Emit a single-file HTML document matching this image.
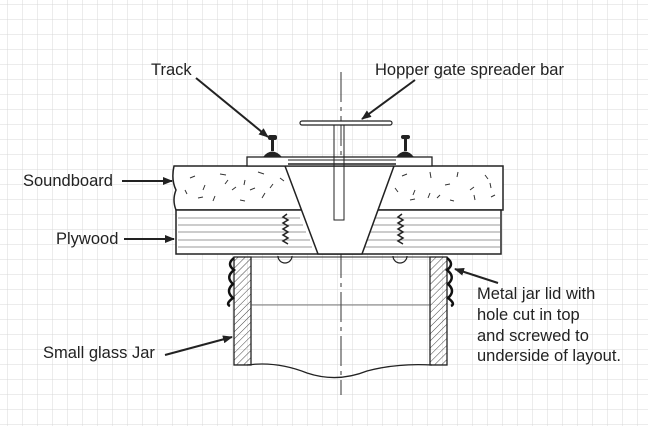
<!DOCTYPE html>
<html><head><meta charset="utf-8"><style>
html,body{margin:0;padding:0;background:#fff;}
svg{display:block;}
text{font-family:"Liberation Sans",sans-serif;fill:#222;}
</style></head><body>
<svg width="648" height="426" viewBox="0 0 648 426" xmlns="http://www.w3.org/2000/svg">
<defs>
<pattern id="grid" width="15" height="15" patternUnits="userSpaceOnUse" x="7" y="4">
<path d="M0 0H15M0 0V15" stroke="#d8d8d8" stroke-width="1" fill="none"/>
</pattern>
<pattern id="hatch" width="5" height="5" patternUnits="userSpaceOnUse" patternTransform="rotate(45)">
<line x1="0" y1="0" x2="0" y2="5" stroke="#444" stroke-width="1"/>
</pattern>
<marker id="ah" markerWidth="10" markerHeight="8" refX="9" refY="4" orient="auto" markerUnits="userSpaceOnUse">
<path d="M0 0L10 4L0 8z" fill="#222"/>
</marker>
</defs>
<rect width="648" height="426" fill="#fff"/>
<rect width="648" height="426" fill="url(#grid)"/>

<!-- center line -->
<line x1="341" y1="72" x2="341" y2="395" stroke="#333" stroke-width="1" stroke-dasharray="30,5,4,5"/>

<!-- soundboard -->
<path d="M174 166H503V210H176Q172 200 176 190Q171 180 174 166Z" fill="#fff" stroke="#222" stroke-width="1.5"/>
<!-- plywood -->
<path d="M176 210H501V254H176Z" fill="#fff" stroke="#222" stroke-width="1.5"/>
<g stroke="#777" stroke-width="0.8">
<line x1="178" y1="218" x2="300" y2="218"/><line x1="178" y1="225" x2="303" y2="225"/>
<line x1="178" y1="232" x2="306" y2="232"/><line x1="178" y1="240" x2="310" y2="240"/>
<line x1="178" y1="247" x2="312" y2="247"/>
<line x1="372" y1="218" x2="500" y2="218"/><line x1="370" y1="225" x2="500" y2="225"/>
<line x1="368" y1="232" x2="500" y2="232"/><line x1="366" y1="240" x2="500" y2="240"/>
<line x1="364" y1="247" x2="500" y2="247"/>
</g>
<!-- specks -->
<g stroke="#333" stroke-width="1">
<path d="M190 178l5-2M205 185l-2 5M220 174l6 1M232 190l4-3M245 180l-1 5M258 172l6 2M270 188l3-4M198 198l5-1M215 196l-2 5M240 200l5 1M262 198l3-5M280 178l4 3M185 190l2 4M250 190l5-2M228 180l-3 4"/>
<path d="M402 176l5-2M415 190l-2 5M430 172l1 6M445 185l5-1M458 172l-1 5M470 190l4-3M485 175l3 4M495 195l-4 2M410 200l5-1M428 198l2-5M450 200l4 1M475 200l-1-5M395 188l3 4M440 195l-3 3M490 183l1 5"/>
</g>

<!-- funnel hole (white) -->
<path d="M285 166L318 254H362L394 166Z" fill="#fff" stroke="#222" stroke-width="1.5"/>
<!-- screws in plywood -->
<path d="M287 214l-4 3 5 3-5 3 5 3-5 3 5 3-5 3 5 3-5 3 5 3" fill="none" stroke="#222" stroke-width="1.5"/>
<path d="M402 214l-4 3 5 3-5 3 5 3-5 3 5 3-5 3 5 3-5 3 5 3" fill="none" stroke="#222" stroke-width="1.5"/>
<path d="M278 256a7 7 0 0 0 14 0" fill="none" stroke="#222" stroke-width="1.2"/>
<path d="M393 256a7 7 0 0 0 14 0" fill="none" stroke="#222" stroke-width="1.2"/>

<!-- track base -->
<rect x="247" y="157" width="185" height="9" fill="#fff" stroke="#222" stroke-width="1.3"/>
<line x1="288" y1="160" x2="396" y2="160" stroke="#222" stroke-width="1"/>
<line x1="288" y1="164" x2="396" y2="164" stroke="#222" stroke-width="1.5"/>
<!-- rails -->
<g fill="#222">
<rect x="268" y="135" width="9" height="5" rx="2"/><rect x="271" y="139" width="3" height="12"/><path d="M263 157Q272 146 282 157Z"/>
<rect x="401" y="135" width="9" height="4" rx="2"/><rect x="404" y="138" width="3" height="13"/><path d="M396 157Q405 146 414 157Z"/>
</g>
<!-- spreader bar -->
<rect x="300" y="121" width="92" height="4" rx="2" fill="#fff" stroke="#222" stroke-width="1.2"/>
<rect x="334" y="125" width="10" height="95" fill="none" stroke="#222" stroke-width="1"/>

<!-- jar -->
<rect x="234" y="257" width="17" height="108" fill="url(#hatch)" stroke="#222" stroke-width="1.3"/>
<rect x="430" y="257" width="17" height="108" fill="url(#hatch)" stroke="#222" stroke-width="1.3"/>
<path d="M234 258q-8 6 0 12q-9 7 -1 14q-8 7 0 14q-8 6 -3 8" fill="none" stroke="#111" stroke-width="2.5"/>
<path d="M447 258q8 6 0 12q9 7 1 14q8 7 0 14q8 6 3 8" fill="none" stroke="#111" stroke-width="2.5"/>
<line x1="251" y1="305" x2="430" y2="305" stroke="#555" stroke-width="0.8"/>
<path d="M247 365q30 -4 60 8q30 10 60 -2q30 -8 65 -6" fill="none" stroke="#222" stroke-width="1.3"/>
<line x1="251" y1="257" x2="430" y2="257" stroke="#222" stroke-width="1"/>

<!-- arrows -->
<g stroke="#222" stroke-width="2" fill="none" marker-end="url(#ah)">
<line x1="196" y1="78" x2="268" y2="137"/>
<line x1="415" y1="80" x2="362" y2="119"/>
<line x1="122" y1="181" x2="172" y2="181"/>
<line x1="124" y1="239" x2="174" y2="239"/>
<line x1="165" y1="355" x2="232" y2="337"/>
<line x1="498" y1="283" x2="455" y2="269"/>
</g>

<!-- labels -->
<text x="151" y="75" font-size="16.5">Track</text>
<text x="375" y="75" font-size="16.5">Hopper gate spreader bar</text>
<text x="23" y="186" font-size="16.5">Soundboard</text>
<text x="56" y="244" font-size="16.5">Plywood</text>
<text x="43" y="358" font-size="16.5">Small glass Jar</text>
<text x="477" y="299" font-size="16.5">Metal jar lid with</text>
<text x="477" y="320" font-size="16.5">hole cut in top</text>
<text x="477" y="341" font-size="16.5">and screwed to</text>
<text x="477" y="361" font-size="16.5">underside of layout.</text>
</svg>
</body></html>
